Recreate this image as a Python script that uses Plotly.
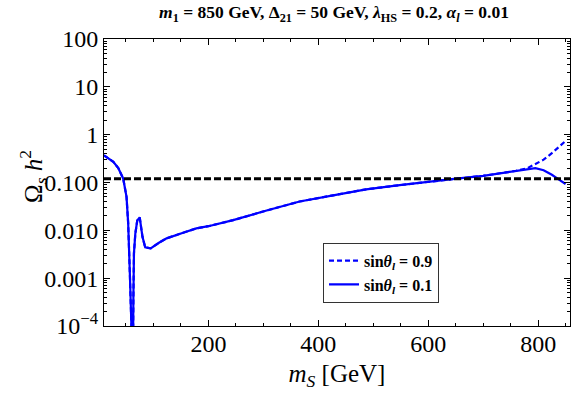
import plotly.graph_objects as go

# relic density vs scalar mass
m_s = [10, 20, 27, 36, 45, 51, 54, 57, 58.5, 60.5, 62.5, 63.5, 64.5, 67, 70.5, 75,
       80, 85, 95, 110, 124, 154, 178, 200, 245, 306, 366, 427, 487, 548, 609,
       651, 700, 730, 760, 780, 795, 810, 825, 838, 850]
omega_01 = [0.37, 0.31, 0.27, 0.20, 0.12, 0.05, 0.014, 0.0013, 0.0003, 0.00002,
            0.00001, 0.0004, 0.0033, 0.0085, 0.016, 0.0186, 0.0073, 0.0044, 0.0042,
            0.0055, 0.0068, 0.0089, 0.011, 0.0122, 0.0163, 0.026, 0.040, 0.054,
            0.072, 0.088, 0.107, 0.12, 0.138, 0.155, 0.176, 0.195, 0.20, 0.18,
            0.145, 0.115, 0.093]
omega_09 = [0.37, 0.31, 0.27, 0.20, 0.12, 0.05, 0.014, 0.0013, 0.0003, 0.00002,
            0.00001, 0.0004, 0.0033, 0.0085, 0.016, 0.0186, 0.0073, 0.0044, 0.0042,
            0.0055, 0.0068, 0.0089, 0.011, 0.0122, 0.0163, 0.026, 0.040, 0.054,
            0.072, 0.088, 0.107, 0.12, 0.138, 0.155, 0.176, 0.198, 0.24, 0.30,
            0.41, 0.55, 0.74]
omega_planck = 0.12

y_ticks = [1e-4, 1e-3, 1e-2, 0.1, 1, 10, 100]
y_ticktext = ["10<sup>−4</sup>", "0.001", "0.010", "0.100", "1", "10", "100"]
y_minor = [k * 10.0 ** e for e in range(-4, 2) for k in range(2, 10)]
x_ticks = [200, 400, 600, 800]
x_minor = [v for v in range(50, 860, 50) if v not in x_ticks]

SERIF = "Liberation Serif"

fig = go.Figure()
fig.add_trace(go.Scatter(
    x=m_s, y=omega_09, mode="lines", name="<b>sin<i>θ</i><sub><i>l</i></sub> = 0.9</b>",
    line=dict(color="#0000ff", width=2.2, dash="5px,3px"),
))
fig.add_trace(go.Scatter(
    x=m_s, y=omega_01, mode="lines", name="<b>sin<i>θ</i><sub><i>l</i></sub> = 0.1</b>",
    line=dict(color="#0000ff", width=2.2),
))
fig.add_trace(go.Scatter(
    x=[10, 858], y=[omega_planck, omega_planck], mode="lines", showlegend=False,
    line=dict(color="black", width=3, dash="7px,3px"),
))

axis_common = dict(
    showgrid=False, zeroline=False, showline=True, linecolor="black", linewidth=1,
    mirror="allticks", ticks="inside", ticklen=6, tickwidth=1, tickcolor="black",
    tickfont=dict(family=SERIF, size=24, color="black"),
)

fig.update_xaxes(
    range=[10, 858], tickvals=x_ticks, ticklabelstandoff=-4,
    minor=dict(tickvals=x_minor, ticks="inside", ticklen=3, tickcolor="black"),
    title=dict(text="<i>m<sub>S</sub></i> [GeV]", font=dict(family=SERIF, size=25, color="black"),
               standoff=8),
    **axis_common,
)
fig.update_yaxes(
    type="log", range=[-4, 2], tickvals=y_ticks, ticktext=y_ticktext,
    minor=dict(tickvals=y_minor, ticks="inside", ticklen=3, tickcolor="black"),
    **axis_common,
)

fig.add_annotation(
    text="Ω<sub><i>s</i></sub> <i>h</i><sup>2</sup>", textangle=-90,
    xref="paper", yref="paper", x=-0.195, y=0.52, showarrow=False,
    font=dict(family=SERIF, size=25, color="black"),
)

fig.update_layout(
    width=576, height=398,
    margin=dict(l=104, r=6, t=39, b=72),
    paper_bgcolor="white", plot_bgcolor="white",
    title=dict(
        text="<b><i>m</i><sub>1</sub> = 850 GeV, Δ<sub>21</sub> = 50 GeV, "
             "<i>λ</i><sub>HS</sub> = 0.2, <i>α<sub>l</sub></i> = 0.01</b>",
        x=334 / 576, xanchor="center", y=0.97, yanchor="middle",
        font=dict(family=SERIF, size=17.5, color="black"),
    ),
    legend=dict(
        x=0.47, y=0.29, xanchor="left", yanchor="top",
        bordercolor="#333", borderwidth=1, bgcolor="white",
        font=dict(family=SERIF, size=16, color="black"),
        itemwidth=30, tracegroupgap=0,
    ),
    showlegend=True,
)

# the page's default body margin would push the 576x398 figure out of the window
fig.write_html("out.html", config={"displayModeBar": False},
               post_script="document.body.style.margin='0';"
               "document.body.style.overflow='hidden';")
